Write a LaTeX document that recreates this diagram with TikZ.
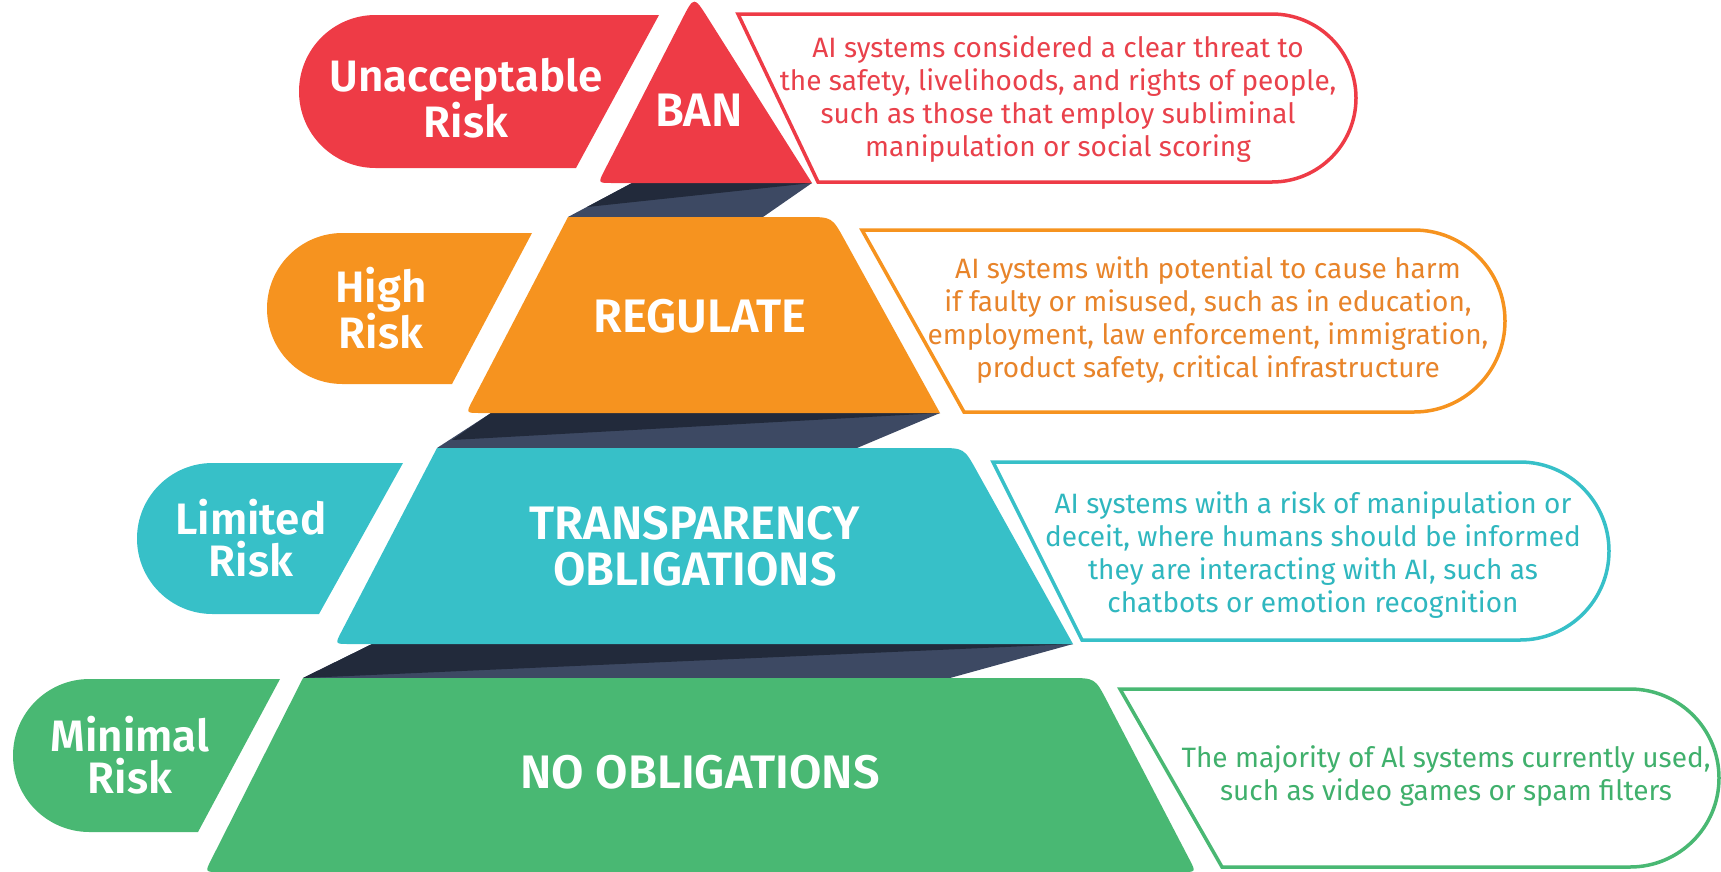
\documentclass[tikz,border=0pt]{standalone}
\usepackage{fontspec}
\setmainfont{Fira Sans}[BoldFont={Fira Sans SemiBold}]
\usetikzlibrary{calc}
\definecolor{cred}{HTML}{EE3B46}
\definecolor{corange}{HTML}{F6931F}
\definecolor{cteal}{HTML}{37C0C8}
\definecolor{cgreen}{HTML}{49B873}
\definecolor{bandlight}{HTML}{3D4963}
\definecolor{banddark}{HTML}{222A3B}
\definecolor{tred}{HTML}{E9414B}
\definecolor{torange}{HTML}{E8842A}
\definecolor{tteal}{HTML}{2FB7BF}
\definecolor{tgreen}{HTML}{40B06C}
\tikzset{
  title/.style={text=white, font=\bfseries\fontsize{44}{42}\selectfont, align=center, inner sep=0pt},
  captitle/.style={title, font=\bfseries\fontsize{47}{46}\selectfont},
  desc/.style={font=\fontsize{28}{33}\selectfont, align=center, inner sep=0pt},
  descbox/.style={line width=3.5pt, line join=miter},
}
\begin{document}
\begin{tikzpicture}[x=1pt,y=-1pt]
\useasboundingbox (0,0) rectangle (1721,871);
% ---------- dark bands ----------
\fill[bandlight] (632,183) -- (812,183) -- (763,217) -- (568,217) -- cycle;
\fill[banddark] (632,183) -- (812,183) -- (587,207) -- cycle;
\fill[bandlight] (491,413) -- (940,413) -- (857,448) -- (437,448) -- cycle;
\fill[banddark] (491,413) -- (940,413) -- (452,440) -- cycle;
\fill[bandlight] (372,644) -- (1073,644) -- (950,678) -- (303,678) -- cycle;
\fill[banddark] (372,644) -- (1073,644) -- (303,678) -- cycle;
% ---------- level 1 : red ----------
\coordinate (ap) at (694,-4);
\coordinate (t1bl) at (598,183);
\coordinate (t1br) at (812,183);
\fill[cred] ($(ap)!26pt!(t1bl)$) .. controls (ap) .. ($(ap)!26pt!(t1br)$) -- (t1br)
  -- ($(t1bl)!14pt!(t1br)$) .. controls (t1bl) .. ($(t1bl)!14pt!(ap)$) -- cycle;
\fill[cred] (375.5,15) -- (659,15) -- (576,168) -- (375.5,168) arc[start angle=90,end angle=270,radius=76.5] -- cycle;
\draw[descbox, draw=cred, fill=white] (738,14) -- (1272,14) arc[start angle=-90,end angle=90,radius=84] -- (818,182) -- cycle;
% ---------- level 2 : orange ----------
\coordinate (r2tl) at (568,217);
\coordinate (r2tr) at (832,217);
\coordinate (r2br) at (940,413);
\coordinate (r2bl) at (466,413);
\fill[corange] (r2tl) -- ($(r2tr)!26pt!(r2tl)$) .. controls (r2tr) .. ($(r2tr)!26pt!(r2br)$) -- (r2br)
  -- ($(r2bl)!14pt!(r2br)$) .. controls (r2bl) .. ($(r2bl)!14pt!(r2tl)$) -- cycle;
\fill[corange] (342.5,233) -- (532,233) -- (452,384) -- (342.5,384) arc[start angle=90,end angle=270,radius=75.5] -- cycle;
\draw[descbox, draw=corange, fill=white] (862,230) -- (1414,230) arc[start angle=-90,end angle=90,radius=91] -- (964,412) -- cycle;
% ---------- level 3 : teal ----------
\coordinate (r3tl) at (437,448);
\coordinate (r3tr) at (964,448);
\coordinate (r3br) at (1073,644);
\coordinate (r3bl) at (335,644);
\fill[cteal] (r3tl) -- ($(r3tr)!26pt!(r3tl)$) .. controls (r3tr) .. ($(r3tr)!26pt!(r3br)$) -- (r3br)
  -- ($(r3bl)!14pt!(r3br)$) .. controls (r3bl) .. ($(r3bl)!14pt!(r3tl)$) -- cycle;
\fill[cteal] (212.5,463) -- (403,463) -- (319,614) -- (212.5,614) arc[start angle=90,end angle=270,radius=75.5] -- cycle;
\draw[descbox, draw=cteal, fill=white] (993,462) -- (1520,462) arc[start angle=-90,end angle=90,radius=89] -- (1082,640) -- cycle;
% ---------- level 4 : green ----------
\coordinate (r4tl) at (303,678);
\coordinate (r4tr) at (1095,678);
\coordinate (r4br) at (1196,872);
\coordinate (r4bl) at (205,872);
\fill[cgreen] (r4tl) -- ($(r4tr)!26pt!(r4tl)$) .. controls (r4tr) .. ($(r4tr)!26pt!(r4br)$) -- ($(r4br)!14pt!(r4tr)$) .. controls (r4br) .. ($(r4br)!14pt!(r4bl)$)
  -- ($(r4bl)!14pt!(r4br)$) .. controls (r4bl) .. ($(r4bl)!14pt!(r4tl)$) -- cycle;
\fill[cgreen] (89.5,679) -- (280,679) -- (198,832) -- (89.5,832) arc[start angle=90,end angle=270,radius=76.5] -- cycle;
\draw[descbox, draw=cgreen, fill=white] (1120,689) -- (1630,689) arc[start angle=-90,end angle=90,radius=89] -- (1222,867) -- cycle;
% ---------- texts ----------
\node[title] (unacc) at (466,98) {Unacceptable\\Risk};
\node[captitle] (ban) at (699,110) {BAN};
\node[desc, text=tred] (d1) at (1058,99) {AI systems considered a clear threat to\\the safety, livelihoods, and rights of people,\\such as those that employ subliminal\\manipulation or social scoring};
\node[title] (high) at (381,308) {High\\Risk};
\node[captitle] (reg) at (700,316) {REGULATE};
\node[desc, text=torange] (d2) at (1208,320) {AI systems with potential to cause harm\\if faulty or misused, such as in education,\\employment, law enforcement, immigration,\\product safety, critical infrastructure};
\node[title] (lim) at (251,538) {Limited\\Risk};
\node[captitle] (transp) at (695,546) {TRANSPARENCY\\OBLIGATIONS};
\node[desc, text=tteal] (d3) at (1313,555) {AI systems with a risk of manipulation or\\deceit, where humans should be informed\\they are interacting with AI, such as\\chatbots or emotion recognition};
\node[title] (minr) at (130,755) {Minimal\\Risk};
\node[captitle] (noobl) at (700,772) {NO OBLIGATIONS};
\node[desc, text=tgreen] (d4) at (1446,776) {The majority of Al systems currently used,\\such as video games or spam filters};
\end{tikzpicture}
\end{document}
